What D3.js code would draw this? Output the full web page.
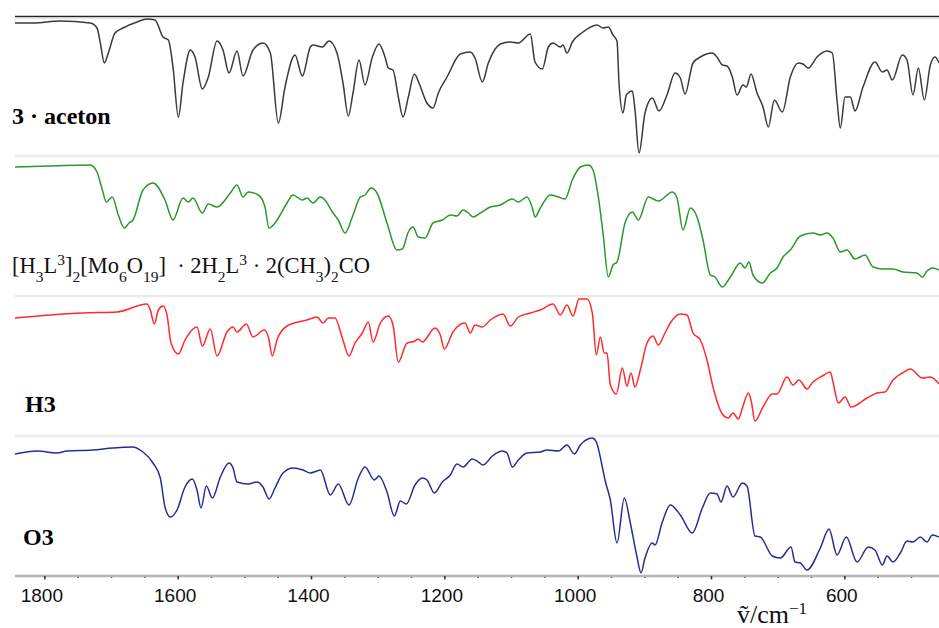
<!DOCTYPE html>
<html><head><meta charset="utf-8">
<script src="https://cdn.jsdelivr.net/npm/d3@7"></script>
<style>html,body{margin:0;padding:0;background:#fff;}svg{display:block;}</style>
</head><body>
<script>
// ---- data: [wavenumber (cm^-1), transmittance (a.u.)] ----
const acetonSpectrum = [
[1844,133],[1817,133],[1776,135],[1731,133],[1721,128],[1716,113],[1710,93],[1704,103],[1694,123],[1682,128],[1661,134],[1646,137],[1634,136],[1622,119],[1614,116],[1607,89],[1599,39],[1592,73],[1581,106],[1574,99],[1563,67],[1554,79],[1541,115],[1532,106],[1523,83],[1511,105],[1502,80],[1487,106],[1472,113],[1461,103],[1449,33],[1439,69],[1424,101],[1413,80],[1401,109],[1397,111],[1383,109],[1373,115],[1361,103],[1352,73],[1344,40],[1337,63],[1328,96],[1319,71],[1308,99],[1298,112],[1289,99],[1284,88],[1277,86],[1269,59],[1262,39],[1254,59],[1245,82],[1238,73],[1227,54],[1217,48],[1209,63],[1196,79],[1176,102],[1161,104],[1154,98],[1143,74],[1134,93],[1116,112],[1101,114],[1089,113],[1071,122],[1064,94],[1053,87],[1044,109],[1037,113],[1026,109],[1022,111],[1016,103],[1008,114],[992,124],[971,131],[962,128],[954,129],[947,121],[941,115],[938,73],[932,43],[927,61],[918,65],[914,46],[908,3],[899,43],[888,58],[878,45],[866,61],[854,83],[846,78],[839,62],[827,93],[816,99],[798,103],[791,99],[783,91],[776,90],[768,79],[761,61],[752,71],[747,69],[740,82],[731,63],[722,49],[714,29],[705,56],[693,44],[681,79],[669,93],[662,92],[654,88],[641,99],[626,105],[618,103],[611,56],[606,28],[599,59],[591,59],[584,45],[572,69],[554,94],[543,84],[536,86],[528,76],[513,101],[506,96],[497,61],[489,88],[480,56],[471,91],[464,99],[458,93]
];
const compoundSpectrum = [
[1844,129],[1791,130],[1731,131],[1721,124],[1713,106],[1707,94],[1698,99],[1689,81],[1680,68],[1673,73],[1667,76],[1652,106],[1637,113],[1619,96],[1607,76],[1592,98],[1584,94],[1577,98],[1563,83],[1554,92],[1541,89],[1521,103],[1511,111],[1502,99],[1494,104],[1479,101],[1469,89],[1463,68],[1454,73],[1436,93],[1427,101],[1413,96],[1406,98],[1397,93],[1386,99],[1379,96],[1368,84],[1359,76],[1349,63],[1338,79],[1326,99],[1319,101],[1310,108],[1301,103],[1286,73],[1271,46],[1263,47],[1254,64],[1247,69],[1239,59],[1229,58],[1217,73],[1203,76],[1191,81],[1181,80],[1172,86],[1164,83],[1157,79],[1146,83],[1131,89],[1116,91],[1098,97],[1089,94],[1076,99],[1068,88],[1064,79],[1056,88],[1041,101],[1029,99],[1019,97],[1008,116],[996,129],[984,131],[977,126],[969,99],[962,63],[954,19],[947,31],[941,34],[929,73],[918,84],[909,76],[894,99],[879,95],[858,104],[851,98],[842,66],[831,88],[821,79],[812,56],[801,21],[794,19],[783,9],[771,19],[756,33],[749,28],[743,34],[737,21],[723,13],[711,23],[701,28],[692,39],[681,46],[666,60],[647,63],[636,61],[626,63],[617,58],[606,44],[596,46],[584,37],[569,41],[557,29],[542,27],[527,27],[512,24],[491,23],[483,19],[476,25],[467,28],[458,26]
];
const h3Spectrum = [
[1844,118],[1791,121],[1742,123],[1691,124],[1646,132],[1641,126],[1635,112],[1629,126],[1622,130],[1616,121],[1610,93],[1599,82],[1589,96],[1571,109],[1563,90],[1551,107],[1541,80],[1526,104],[1517,109],[1511,104],[1497,112],[1487,99],[1470,106],[1464,99],[1458,80],[1451,96],[1436,110],[1406,116],[1391,119],[1382,113],[1374,118],[1364,118],[1353,98],[1343,80],[1334,93],[1323,103],[1314,114],[1307,94],[1296,113],[1284,120],[1277,111],[1269,74],[1256,93],[1244,95],[1239,97],[1233,94],[1214,108],[1206,101],[1200,87],[1187,104],[1169,113],[1161,103],[1154,111],[1143,109],[1131,116],[1112,122],[1101,110],[1089,119],[1071,123],[1056,126],[1037,132],[1026,121],[1016,131],[1007,120],[998,137],[986,137],[978,123],[972,81],[966,99],[960,83],[956,83],[951,51],[942,42],[933,68],[926,50],[920,63],[914,49],[906,66],[896,93],[887,100],[879,91],[869,103],[861,113],[846,122],[836,121],[827,103],[816,96],[806,76],[797,49],[783,22],[774,18],[767,23],[759,17],[752,30],[744,43],[740,36],[734,15],[722,29],[708,42],[701,42],[686,59],[677,51],[668,56],[656,47],[647,54],[633,60],[621,64],[617,54],[609,33],[599,39],[590,29],[566,38],[551,43],[539,44],[527,56],[513,63],[501,67],[483,58],[471,59],[458,52]
];
const o3Spectrum = [
[1844,122],[1811,125],[1781,123],[1766,125],[1727,126],[1697,128],[1668,129],[1652,124],[1637,113],[1626,98],[1619,69],[1611,59],[1601,66],[1589,89],[1578,97],[1571,86],[1565,68],[1557,90],[1548,78],[1536,99],[1523,113],[1517,108],[1511,94],[1494,92],[1481,94],[1472,89],[1463,77],[1454,88],[1442,103],[1427,108],[1412,106],[1401,103],[1391,105],[1386,106],[1371,81],[1359,92],[1343,71],[1329,98],[1319,109],[1305,96],[1298,100],[1286,84],[1275,60],[1266,75],[1257,72],[1244,91],[1233,98],[1226,96],[1215,83],[1203,94],[1191,101],[1181,112],[1172,109],[1158,117],[1151,115],[1142,111],[1128,120],[1113,125],[1106,123],[1098,109],[1089,116],[1076,123],[1056,124],[1046,126],[1029,125],[1016,131],[1005,122],[996,131],[978,138],[972,134],[963,109],[959,96],[951,76],[941,33],[930,78],[921,53],[911,19],[905,3],[899,18],[888,33],[884,31],[873,54],[861,71],[846,61],[828,43],[813,68],[801,83],[791,82],[785,74],[776,90],[767,79],[753,93],[746,90],[734,40],[726,39],[708,20],[696,18],[680,29],[674,14],[666,13],[656,6],[636,28],[623,47],[611,21],[597,39],[581,14],[564,29],[554,26],[543,11],[536,20],[527,14],[516,23],[506,35],[497,34],[486,39],[476,34],[468,41],[458,39]
];
const seriesColors = ["#3a3a3a", "#2a982a", "#ff2a2a", "#2b2b95"];
const tickValues = [1800, 1600, 1400, 1200, 1000, 800, 600];
const minorTickValues = d3.range(1800, 450, -50);
const xDomain = [1844, 458];

const W = 939, H = 628;
const svg = d3.select("body").append("svg").attr("width", W).attr("height", H);
const left = 15, right = 939;
const panelTops = [16, 156, 296, 436];
const panelH = 140;
const x = d3.scaleLinear().domain(xDomain).range([left, right]);

const spectra = [acetonSpectrum, compoundSpectrum, h3Spectrum, o3Spectrum];

// top black border
svg.append("line").attr("x1", left).attr("x2", right).attr("y1", 16.5).attr("y2", 16.5)
  .attr("stroke", "#222").attr("stroke-width", 1.6);
svg.append("line").attr("x1", left).attr("x2", right).attr("y1", 18.5).attr("y2", 18.5)
  .attr("stroke", "#e6e6e6").attr("stroke-width", 1.5);
// light separators
[156, 296, 436].forEach(yy => {
  svg.append("line").attr("x1", left).attr("x2", right).attr("y1", yy).attr("y2", yy)
    .attr("stroke", "#ececec").attr("stroke-width", 2.5);
});

spectra.forEach((data, i) => {
  const y = d3.scaleLinear().domain([0, 140]).range([panelTops[i] + panelH, panelTops[i]]);
  const line = d3.line().x(d => x(d[0])).y(d => y(d[1])).curve(d3.curveMonotoneX);
  svg.append("path").datum(data).attr("d", line)
    .attr("fill", "none").attr("stroke", seriesColors[i]).attr("stroke-width", 1.5)
    .attr("stroke-linejoin", "round");
});

// x axis
const axisY = 576;
const gMinor = svg.append("g").attr("transform", `translate(0,${axisY})`)
  .call(d3.axisBottom(x).tickValues(minorTickValues).tickSize(2).tickFormat(""));
gMinor.select(".domain").remove();
gMinor.selectAll("line").attr("stroke", "#444").attr("stroke-width", 1.5);
const gAxis = svg.append("g").attr("transform", `translate(0,${axisY})`)
  .call(d3.axisBottom(x).tickValues(tickValues).tickSize(3.5).tickPadding(9).tickSizeOuter(0)
    .tickFormat(d3.format("d")));
gAxis.select(".domain").attr("stroke", "#b5b5b5").attr("stroke-width", 2.5)
  .attr("d", `M${left},0H${right}`);
gAxis.selectAll(".tick line").attr("stroke", "#333").attr("stroke-width", 1.5);
gAxis.selectAll(".tick text").attr("font-family", "Liberation Sans, Arial, sans-serif")
  .attr("font-size", 19).attr("fill", "#111").attr("dx", -3);

// axis title
const t = svg.append("text").attr("x", 737).attr("y", 623)
  .attr("font-family", "Liberation Serif, Times New Roman, serif").attr("font-size", 26).attr("fill", "#111");
t.append("tspan").text("ṽ/cm");
t.append("tspan").attr("baseline-shift", "super").attr("font-size", 17).text("−1");

// panel labels
const serif = "Liberation Serif, Times New Roman, serif";
svg.append("text").attr("x", 12).attr("y", 124).attr("font-family", serif).attr("font-weight", "bold")
  .attr("font-size", 24).text("3 · aceton");
svg.append("text").attr("x", 25).attr("y", 412).attr("font-family", serif).attr("font-weight", "bold")
  .attr("font-size", 24).text("H3");
svg.append("text").attr("x", 23).attr("y", 545).attr("font-family", serif).attr("font-weight", "bold")
  .attr("font-size", 24).text("O3");

const formula = [
  ["[H", null], ["3", "sub"], ["L", null], ["3", "super"], ["]", null], ["2", "sub"],
  ["[Mo", null], ["6", "sub"], ["O", null], ["19", "sub"], ["]  · 2H", null], ["2", "sub"],
  ["L", null], ["3", "super"], [" · 2(CH", null], ["3", "sub"], [")", null], ["2", "sub"], ["CO", null]
];
const ft = svg.append("text").attr("x", 12).attr("y", 273).attr("font-family", serif)
  .attr("font-size", 22.5).attr("fill", "#111").style("white-space", "pre");
formula.forEach(([s, shift]) => {
  const ts = ft.append("tspan").text(s);
  if (shift) ts.attr("baseline-shift", shift).attr("font-size", 15.5);
});
</script>
</body></html>
